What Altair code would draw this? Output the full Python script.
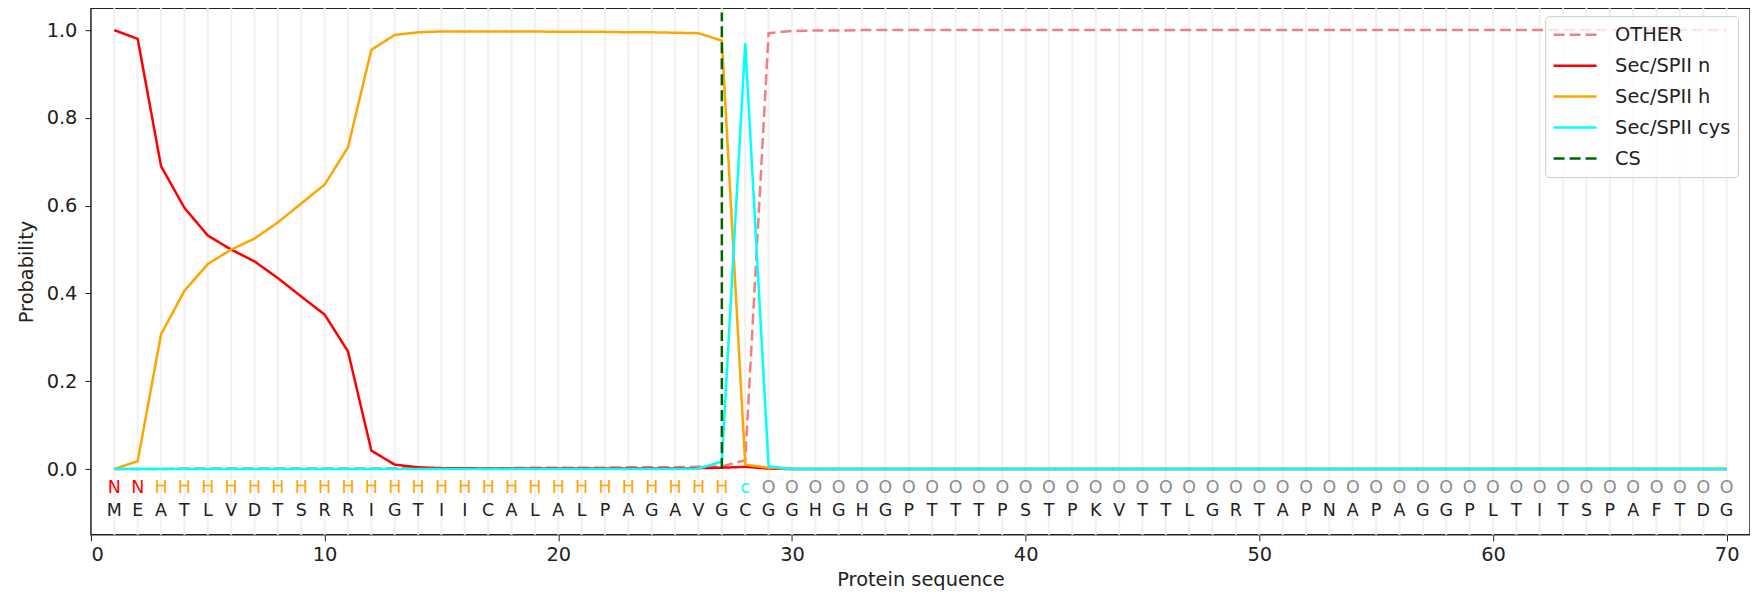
import altair as alt
import pandas as pd

positions = list(range(1, 71))
sequence = list("MEATLVDTSRRIGTIICALALPAGAVGCGGHGHGPTTTPSTPKVTTLGRTAPNAPAGGPLTITSPAFTDG")
labels = list("NN" + "H" * 25 + "c" + "O" * 42)

other = [0.0, 0.0, 0.0, 0.001, 0.001, 0.001, 0.001, 0.001, 0.001, 0.001,
         0.001, 0.001, 0.002, 0.002, 0.002, 0.002, 0.002, 0.002, 0.003, 0.003,
         0.003, 0.003, 0.004, 0.004, 0.004, 0.005, 0.006, 0.020, 0.993, 0.998,
         0.999, 0.999] + [1.0] * 38
sec_n = [1.0, 0.98, 0.69, 0.595, 0.532, 0.500, 0.473, 0.435, 0.393, 0.352,
         0.268, 0.042, 0.010, 0.004, 0.002, 0.002, 0.001, 0.001, 0.001, 0.001,
         0.001, 0.001, 0.001, 0.001, 0.001, 0.002, 0.003, 0.005, 0.001] + [0.0] * 41
sec_h = [0.0, 0.018, 0.307, 0.406, 0.467, 0.500, 0.525, 0.562, 0.605, 0.648,
         0.733, 0.955, 0.989, 0.995, 0.997, 0.997, 0.997, 0.997, 0.997, 0.996,
         0.996, 0.996, 0.995, 0.995, 0.994, 0.993, 0.976, 0.010, 0.003] + [0.0] * 41
sec_cys = [0.0] * 25 + [0.001, 0.017, 0.970, 0.006] + [0.0] * 41
cs_position = 27
cs_top = 1.04

series_names = ["OTHER", "Sec/SPII n", "Sec/SPII h", "Sec/SPII cys", "CS"]
series_colors = ["#f07f7f", "#ff0000", "#ffa500", "#00ffff", "#006400"]
series_dashes = [[11, 5], [1, 0], [1, 0], [1, 0], [11, 5]]

rows = []
for name, vals in zip(series_names[:4], [other, sec_n, sec_h, sec_cys]):
    for p, v in zip(positions, vals):
        rows.append({"pos": p, "value": v, "series": name})
df_lines = pd.DataFrame(rows)
df_seq = pd.DataFrame({"pos": positions, "aa": sequence, "lab": labels})
df_cs = pd.DataFrame({"pos": [cs_position], "y0": [0.0], "y1": [cs_top], "series": ["CS"]})

FONT = "DejaVu Sans"
x_scale = alt.Scale(domain=[0, 71], nice=False, zero=False)
y_scale = alt.Scale(domain=[-0.15, 1.05], nice=False, zero=False)
x_axis = alt.Axis(values=list(range(0, 71, 10)), title="Protein sequence", grid=False,
                  domain=False, tickSize=6, tickColor="#222", labelPadding=5,
                  titlePadding=6)
y_axis = alt.Axis(values=[0, 0.2, 0.4, 0.6, 0.8, 1.0], format=".1f", title="Probability",
                  grid=False, domain=False, tickSize=6, tickColor="#222",
                  labelPadding=8, titlePadding=10)

color_scale = alt.Scale(domain=series_names, range=series_colors)
dash_scale = alt.Scale(domain=series_names, range=series_dashes)
legend = alt.Legend(title=None, orient="none", legendX=1455, legendY=8,
                    symbolType="stroke", symbolSize=1849, symbolStrokeWidth=2.5,
                    clipHeight=23, rowPadding=8, labelOffset=17, padding=7,
                    fillColor="rgba(255,255,255,0.8)", strokeColor="#cccccc",
                    cornerRadius=4, labelFontSize=19.4, labelFont=FONT,
                    labelColor="#222")

X = alt.X("pos:Q", scale=x_scale, axis=x_axis)

grid = alt.Chart(df_seq).mark_rule(color="#f1f1f1", strokeWidth=2.2).encode(x=X)

line_layers = []
for name in series_names[:4]:
    line_layers.append(
        alt.Chart(df_lines).transform_filter(alt.datum.series == name)
        .mark_line(strokeWidth=2.5)
        .encode(
            x=X,
            y=alt.Y("value:Q", scale=y_scale, axis=y_axis),
            color=alt.Color("series:N", scale=color_scale, legend=legend),
            strokeDash=alt.StrokeDash("series:N", scale=dash_scale, legend=legend),
        )
    )

cs_rule = alt.Chart(df_cs).mark_rule(strokeWidth=2.5).encode(
    x=X,
    y=alt.Y("y0:Q", scale=y_scale, axis=y_axis),
    y2="y1:Q",
    color=alt.Color("series:N", scale=color_scale, legend=legend),
    strokeDash=alt.StrokeDash("series:N", scale=dash_scale, legend=legend),
)

lab_colors = {"N": "#ff0000", "H": "#ffa500", "c": "#00ffff", "O": "#8c8c8c"}
lab_layers = []
for lab, col in lab_colors.items():
    lab_layers.append(
        alt.Chart(df_seq).transform_filter(alt.datum.lab == lab)
        .mark_text(fontSize=17.5, font=FONT, color=col, baseline="middle")
        .encode(x=X, y=alt.datum(-0.043, scale=y_scale), text="lab:N")
    )
aa_layer = alt.Chart(df_seq).mark_text(fontSize=17.5, font=FONT, color="#222",
                                       baseline="middle").encode(
    x=X, y=alt.datum(-0.095, scale=y_scale), text="aa:N")

chart = alt.layer(grid, *line_layers, cs_rule, *lab_layers, aa_layer).properties(
    width=1660, height=527,
    autosize=alt.AutoSizeParams(type="none"),
    padding={"left": 83, "top": 0, "right": 0, "bottom": 64},
).configure_view(stroke="#222", strokeWidth=1.5).configure_axis(
    labelFont=FONT, titleFont=FONT, labelFontSize=19.4, titleFontSize=19.4,
    labelColor="#222", titleColor="#222", titleFontWeight="normal",
)

chart.save("out.html", embed_options={"renderer": "svg", "actions": False})
